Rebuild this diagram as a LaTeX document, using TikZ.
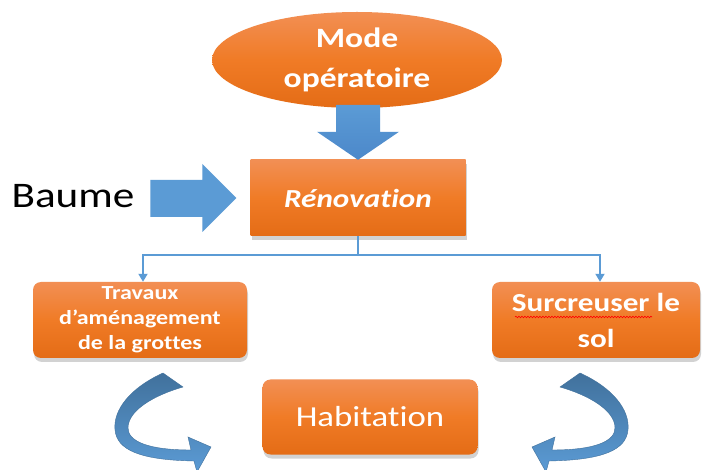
\documentclass[tikz,border=0pt]{standalone}
\usepackage{fontspec}
\setmainfont{Carlito}[FakeStretch=1.2, Ligatures=NoCommon]
\usetikzlibrary{shapes.geometric,shadows,arrows.meta,decorations.pathmorphing}
\definecolor{orT}{RGB}{242,143,84}
\definecolor{orM}{RGB}{240,123,38}
\definecolor{orB}{RGB}{228,108,22}
\definecolor{blL}{RGB}{91,155,213}
\definecolor{blD}{RGB}{65,113,156}
\definecolor{blM}{RGB}{76,136,202}
\tikzset{
  obox/.style={draw=none, top color=orT, bottom color=orB, middle color=orM, text=white,
    inner sep=0pt, align=center,
    drop shadow={opacity=0.35, shadow xshift=1pt, shadow yshift=-4pt}},
  rbox/.style={obox, rounded corners=8pt},
  conn/.style={draw=blL, line width=1.8pt, -{Triangle[width=9pt,length=8pt]}},
  barrow/.style={top color=blL, bottom color=blM, draw=none},
  carrow/.style={top color=blD, bottom color=blL, draw=blD, line width=0.4pt},
  curv/.pic={
    \path[carrow] (163,373) .. controls (130,388) and (113,410) .. (115,430)
      .. controls (117,450) and (140,460) .. (194,461)
      -- (197,472) -- (211,447) -- (188,437) -- (191,450)
      .. controls (150,450) and (128,442) .. (128,428)
      .. controls (128,410) and (155,395) .. (183,387) -- cycle;
  }
}
\begin{document}
\begin{tikzpicture}[x=1pt,y=-1pt]
\useasboundingbox (0,0) rectangle (702,470);
\fill[white] (0,0) rectangle (702,470);

\node[ellipse, top color=orT, bottom color=orB, middle color=orM, draw=none,
  minimum width=290pt, minimum height=96pt, inner sep=0pt, text=white, align=center,
  font=\fontsize{28}{40}\selectfont\bfseries] (mode) at (357,60) {Mode\\opératoire};

\node[obox, minimum width=215pt, minimum height=76pt,
  font=\fontsize{26}{30}\selectfont\bfseries\itshape] (ren) at (358,198) {Rénovation};

\node[rbox, minimum width=214pt, minimum height=76pt,
  font=\fontsize{20}{25}\selectfont\bfseries] (trav) at (140,320) {Travaux\\d’aménagement\\de la grottes};

\node[rbox, minimum width=208pt, minimum height=76pt,
  font=\fontsize{26}{36}\selectfont\bfseries] (surc) at (596,320) {Surcreuser le\\sol};

\node[rbox, minimum width=215pt, minimum height=75pt,
  font=\fontsize{29}{34}\selectfont] (hab) at (370,417) {Habitation};

\node[font=\fontsize{36}{40}\selectfont, text=black, inner sep=0pt] (baume) at (73,196) {Baume};

% block arrows
\path[barrow] (ren.north) -- ++(-41,-28) -- ++(19,0) -- ++(0,-27) -- ++(44,0)
  -- ++(0,27) -- ++(19,0) -- cycle;
\path[fill=blL] ([xshift=-14pt]ren.west) -- ++(-34,-34) -- ++(0,16) -- ++(-52,0)
  -- ++(0,37) -- ++(52,0) -- ++(0,15) -- cycle;

% connectors
\coordinate (split) at ([yshift=-19pt]ren.south);
\draw[conn] (ren.south) -- (split) -| ([xshift=3pt]trav.north);
\draw[conn] (ren.south) -- (split) -| ([xshift=4pt]surc.north);

% spell-check underline
\draw[red, line width=0.6pt, decorate, decoration={snake, amplitude=0.8pt, segment length=3pt}]
  (515,317) -- (652,317);

% curved arrows
\pic at (0,0) {curv};
\pic[xscale=-1] at (743,0) {curv};
\end{tikzpicture}
\end{document}
